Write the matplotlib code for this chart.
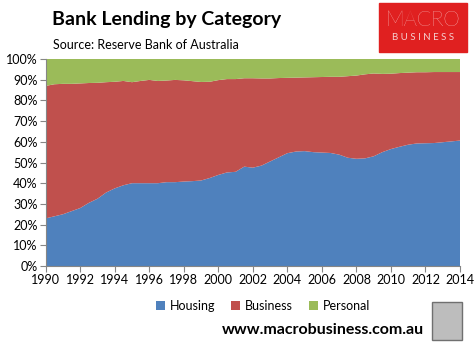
import numpy as np
import matplotlib
matplotlib.use("Agg")
from matplotlib import pyplot as plt
from matplotlib.patches import Rectangle

plt.rcParams['font.family'] = ['Lato', 'DejaVu Sans']

years = np.arange(1990, 2014.01, 0.5)
housing = [23.0, 24.0, 25.0, 26.5, 28.0, 30.5, 32.5, 35.5, 37.5, 39.0,
           40.0, 40.0, 40.0, 40.0, 40.5, 40.5, 40.8, 41.0, 41.3, 42.5,
           44.0, 45.2, 45.5, 48.0, 47.5, 48.5, 50.5, 52.5, 54.5, 55.3,
           55.5, 55.0, 54.8, 54.6, 53.8, 52.3, 51.8, 52.0, 53.0, 55.0,
           56.5, 57.6, 58.6, 59.2, 59.3, 59.4, 59.8, 60.2, 60.6]
business = [64.0, 63.8, 63.0, 61.5, 60.2, 57.9, 56.0, 53.3, 51.5, 50.4,
            48.8, 49.4, 49.9, 49.4, 49.1, 49.4, 48.9, 48.3, 47.6, 46.5,
            45.8, 45.1, 44.8, 42.7, 43.2, 42.1, 40.1, 38.3, 36.4, 35.7,
            35.6, 36.2, 36.5, 36.8, 37.6, 39.4, 40.2, 40.6, 40.0, 37.8,
            36.4, 35.6, 34.8, 34.4, 34.3, 34.3, 33.9, 33.5, 33.1]
personal = [13.0, 12.2, 12.0, 12.0, 11.8, 11.6, 11.5, 11.2, 11.0, 10.6,
            11.2, 10.6, 10.1, 10.6, 10.4, 10.1, 10.3, 10.7, 11.1, 11.0,
            10.2, 9.7, 9.7, 9.3, 9.3, 9.4, 9.4, 9.2, 9.1, 9.0,
            8.9, 8.8, 8.7, 8.6, 8.6, 8.3, 8.0, 7.4, 7.0, 7.2,
            7.1, 6.8, 6.6, 6.4, 6.4, 6.3, 6.3, 6.3, 6.3]
labels = ["Housing", "Business", "Personal"]
colors = ["#4F81BD", "#C0504D", "#9BBB59"]

fig = plt.figure(figsize=(4.76, 3.42), dpi=100)
ax = fig.add_axes([45.7/476, 1-266/342, (460-45.7)/476, (266-59)/342])

ax.stackplot(years, housing, business, personal, colors=colors, labels=labels)
ax.set_xlim(1990, 2014)
ax.set_ylim(0, 100)
ax.set_xticks(np.arange(1990, 2015, 2))
ax.set_yticks(np.arange(0, 101, 10))
ax.set_yticklabels([f"{v}%" for v in range(0, 101, 10)])
for s in ["top", "right"]:
    ax.spines[s].set_visible(False)
for s in ["left", "bottom"]:
    ax.spines[s].set_color("#868686")
ax.tick_params(axis="both", direction="out", length=4, color="#868686",
               labelsize=9, labelcolor="black", pad=2)

fig.text(52/476, 1-19/342, "Bank Lending by Category", fontsize=14,
         fontweight="bold", va="center", ha="left")
fig.text(53/476, 1-45/342, "Source: Reserve Bank of Australia", fontsize=9,
         va="center", ha="left")

# logo
fig.patches.append(Rectangle((379/476, 1-52/342), 88/476, 49/342,
                             transform=fig.transFigure, color="#E02020"))
fig.text(423/476, 1-20/342, "MACRO", fontsize=15, color="white",
         fontweight="light", ha="center", va="center")
fig.text(423/476, 1-37/342, "B U S I N E S S", fontsize=7, color="#F5D0D0",
         ha="center", va="center")

handles, lbls = ax.get_legend_handles_labels()
fig.legend(handles, lbls, loc="center", bbox_to_anchor=(263/476, 1-306/342),
           ncol=3, frameon=False, fontsize=9, handlelength=0.7,
           handleheight=0.7, handletextpad=0.4, columnspacing=1.3)

fig.text(424/476, 1-330/342, "www.macrobusiness.com.au", fontsize=11.5,
         fontweight="bold", ha="right", va="center")
fig.patches.append(Rectangle((432/476, 1-340/342), 30/476, 38/342,
                             transform=fig.transFigure, facecolor="#BDBDBD",
                             edgecolor="#707070", linewidth=1))

fig.savefig("out.png", dpi=100)
